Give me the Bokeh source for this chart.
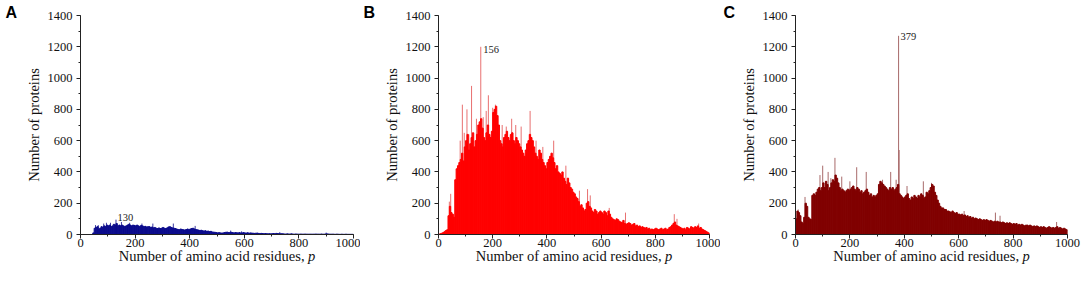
import numpy as np
from bokeh.plotting import figure
from bokeh.layouts import row
from bokeh.models import Label, Range1d, SingleIntervalTicker, ColumnDataSource
from bokeh.embed import file_html
from bokeh.resources import INLINE

# ---------------- data ----------------
bin_width = 5
x_start = 0

# Panel A: counts per 5-residue bin (p = 0..1000)
a_counts = [
    0, 0, 0, 0, 0, 0, 0, 0, 0, 10,
    40, 45, 50, 35, 40, 50, 45, 55, 50, 60,
    55, 60, 50, 55, 65, 60, 70, 55, 60, 55,
    60, 55, 50, 55, 60, 65, 60, 55, 60, 58,
    55, 60, 55, 50, 58, 55, 50, 52, 48, 50,
    50, 45, 48, 42, 45, 40, 38, 42, 38, 40,
    45, 40, 38, 42, 48, 50, 45, 42, 40, 38,
    35, 32, 30, 35, 32, 30, 28, 32, 35, 30,
    35, 38, 40, 35, 32, 30, 28, 25, 27, 24,
    22, 24, 20, 22, 18, 20, 16, 15, 14, 12,
    10, 12, 10, 9, 10, 12, 14, 15, 12, 13,
    14, 12, 10, 12, 11, 10, 12, 9, 10, 12,
    10, 9, 11, 8, 10, 9, 8, 7, 8, 9,
    7, 6, 7, 6, 5, 6, 5, 4, 5, 4,
    5, 6, 5, 7, 6, 5, 4, 5, 4, 3,
    3, 4, 3, 3, 4, 3, 2, 3, 3, 2,
    2, 3, 2, 2, 3, 2, 2, 2, 2, 2,
    2, 2, 3, 2, 2, 2, 3, 2, 2, 3,
    4, 3, 2, 2, 2, 2, 1, 2, 2, 1,
    1, 2, 1, 1, 2, 1, 1, 1, 1, 1,
]
a_spike_pos = [55, 65, 85, 95, 110, 130, 150, 180, 225, 265, 340, 420, 550, 590, 730, 900]
a_spike_val = [60, 60, 70, 75, 75, 95, 80, 75, 70, 70, 70, 55, 25, 20, 15, 12]
a_peak = 130

# Panel B
b_counts = [
    2, 5, 8, 12, 18, 25, 30, 120, 180, 140,
    130, 110, 350, 420, 440, 460, 480, 520, 470, 560,
    600, 640, 540, 580, 620, 650, 560, 600, 640, 700,
    720, 740, 680, 620, 600, 650, 700, 640, 620, 660,
    780, 800, 820, 760, 700, 600, 580, 560, 620, 640,
    660, 620, 600, 640, 650, 600, 580, 620, 600, 580,
    560, 540, 520, 500, 540, 580, 600, 640, 620, 600,
    560, 520, 500, 480, 540, 520, 480, 460, 440, 420,
    460, 480, 500, 520, 490, 460, 420, 440, 400, 390,
    380, 400, 360, 340, 320, 360, 330, 300, 290, 270,
    260, 240, 230, 210, 180, 190, 170, 150, 160, 200,
    210, 180, 170, 150, 140, 160, 150, 130, 140, 150,
    140, 130, 150, 140, 120, 150, 130, 110, 100, 95,
    90, 100, 95, 85, 80, 75, 90, 70, 65, 70,
    75, 70, 60, 65, 70, 55, 60, 50, 55, 45,
    50, 45, 40, 45, 35, 40, 30, 35, 30, 35,
    40, 35, 30, 35, 40, 30, 35, 40, 30, 35,
    45, 50, 60, 70, 80, 60, 55, 50, 45, 40,
    35, 40, 30, 45, 40, 35, 50, 45, 40, 50,
    45, 55, 40, 45, 35, 30, 25, 20, 15, 10,
]
b_spike_pos = [40, 45, 80, 88, 95, 105, 112, 122, 140, 156, 165, 176, 184, 200, 210,
               235, 250, 270, 285, 305, 338, 360, 385, 425, 470, 520, 550, 560,
               630, 690, 870, 880, 960]
b_spike_val = [210, 260, 600, 830, 650, 800, 640, 950, 740, 1200, 750, 790, 890, 810, 830,
               700, 690, 740, 700, 690, 790, 600, 560, 600, 440, 280, 290, 250,
               170, 140, 130, 100, 70]
b_peak = 156

# Panel C
c_counts = [
    100, 150, 140, 120, 80, 70, 110, 200, 180, 110,
    100, 95, 250, 260, 250, 270, 290, 300, 280, 300,
    330, 300, 340, 320, 280, 300, 330, 350, 340, 380,
    360, 330, 300, 280, 290, 280, 270, 280, 290, 280,
    290, 300, 310, 290, 280, 300, 290, 270, 280, 260,
    270, 280, 290, 270, 250, 260, 240, 250, 240, 250,
    260, 320, 340, 330, 320, 310, 300, 290, 280, 300,
    290, 300, 280, 290, 300, 320, 260, 250, 240, 230,
    240, 250, 260, 230, 220, 240, 230, 250, 240, 230,
    250, 240, 260, 250, 230, 240, 270, 260, 280, 300,
    320, 310, 270, 250, 220, 200, 180, 170, 170, 160,
    160, 150, 150, 145, 140, 150, 140, 135, 140, 130,
    130, 125, 130, 120, 125, 115, 120, 110, 115, 105,
    110, 100, 105, 100, 95, 100, 95, 90, 95, 90,
    95, 90, 85, 90, 85, 80, 85, 80, 85, 80,
    80, 75, 80, 75, 70, 75, 70, 75, 70, 65,
    70, 65, 70, 60, 65, 60, 65, 60, 55, 60,
    60, 55, 60, 55, 50, 55, 50, 55, 50, 45,
    50, 45, 50, 45, 40, 45, 50, 45, 40, 45,
    40, 45, 50, 40, 45, 40, 35, 40, 35, 30,
]
c_spike_pos = [10, 35, 90, 100, 120, 130, 145, 170, 200, 225, 260, 320, 350, 370,
               379, 381, 410, 470, 500, 620, 735, 752, 960]
c_spike_val = [160, 240, 380, 440, 400, 360, 490, 370, 340, 430, 400, 350, 400, 350,
               1270, 540, 310, 340, 330, 150, 140, 120, 80]
c_peak = 379

serif = "Liberation Serif"
H = 284
TOP = 15
FRAME_H = 219


def panel(letter, counts, spike_pos, spike_val, peak, fill, spike_color,
          width, left, frame_w, letter_dx, peak_dx, peak_dy, peak_baseline):
    right = width - left - frame_w
    p = figure(width=width, height=H, output_backend="svg", toolbar_location=None,
               x_range=Range1d(0, 1000), y_range=Range1d(0, 1400),
               min_border_left=left, min_border_right=right,
               min_border_top=TOP, min_border_bottom=H - TOP - FRAME_H)
    p.outline_line_color = None
    p.xgrid.visible = False
    p.ygrid.visible = False
    p.background_fill_color = "white"

    centers = x_start + bin_width * np.arange(len(counts)) + bin_width / 2
    p.segment(x0=spike_pos, y0=[0] * len(spike_pos), x1=spike_pos, y1=spike_val,
              line_color=spike_color, line_width=1)
    src = ColumnDataSource(dict(x=centers, top=counts))
    p.vbar(x="x", top="top", width=bin_width, source=src,
           fill_color=fill, line_color=fill, line_width=1)

    for ax in (p.xaxis[0], p.yaxis[0]):
        ax.axis_line_color = "#222222"
        ax.major_tick_line_color = "#222222"
        ax.minor_tick_line_color = "#222222"
        ax.major_tick_out = 4
        ax.major_tick_in = 0
        ax.minor_tick_out = 2
        ax.minor_tick_in = 0
        ax.major_label_text_font = serif
        ax.major_label_text_font_size = "12.5px"
        ax.major_label_text_color = "#111111"
    p.xaxis.ticker = SingleIntervalTicker(interval=200, num_minor_ticks=2)
    p.yaxis.ticker = SingleIntervalTicker(interval=200, num_minor_ticks=2)
    p.xaxis.major_label_standoff = 0
    p.yaxis.major_label_standoff = 4

    p.yaxis.axis_label = "Number of proteins"
    p.yaxis.axis_label_text_font = serif
    p.yaxis.axis_label_text_font_style = "normal"
    p.yaxis.axis_label_text_font_size = "14.5px"
    p.yaxis.axis_label_text_color = "#111111"
    p.yaxis.axis_label_standoff = 3

    # x title: normal part + italic p, placed in the bottom side panel
    p.add_layout(Label(x=500, y=0, x_offset=87.5, y_offset=-21,
                       text="Number of amino acid residues,", text_align="right",
                       text_baseline="alphabetic", text_font=serif,
                       text_font_size="14.5px", text_color="#111111"), "below")
    p.add_layout(Label(x=500, y=0, x_offset=91, y_offset=-21,
                       text="p", text_align="left", text_font_style="italic",
                       text_baseline="alphabetic", text_font=serif,
                       text_font_size="14.5px", text_color="#111111"), "below")

    # panel letter, placed in the left side panel
    p.add_layout(Label(x=0, y=1400, x_offset=letter_dx, y_offset=3, text=letter,
                       text_font="Liberation Sans", text_font_style="bold",
                       text_font_size="16px", text_baseline="alphabetic",
                       text_color="black"), "left")

    # peak annotation
    k = spike_pos.index(peak)
    p.add_layout(Label(x=peak, y=spike_val[k], x_offset=peak_dx, y_offset=peak_dy,
                       text=str(peak), text_font=serif, text_font_size="10.5px",
                       text_baseline=peak_baseline, text_color="#222222"))
    return p


pA = panel("A", a_counts, a_spike_pos, a_spike_val, a_peak, "#0c0c8c", "#3a3aa0",
           360, 80, 273, -75, 1.5, 2, "alphabetic")
pB = panel("B", b_counts, b_spike_pos, b_spike_val, b_peak, "#ff0000", "#e87070",
           360, 78, 271, -75, 2.4, -2.7, "middle")
pC = panel("C", c_counts, c_spike_pos, c_spike_val, c_peak, "#800000", "#a86a6a",
           364, 75, 272, -72, 1.9, -1, "middle")

layout = row(pA, pB, pC)
open("out.html", "w").write(file_html(layout, INLINE))
